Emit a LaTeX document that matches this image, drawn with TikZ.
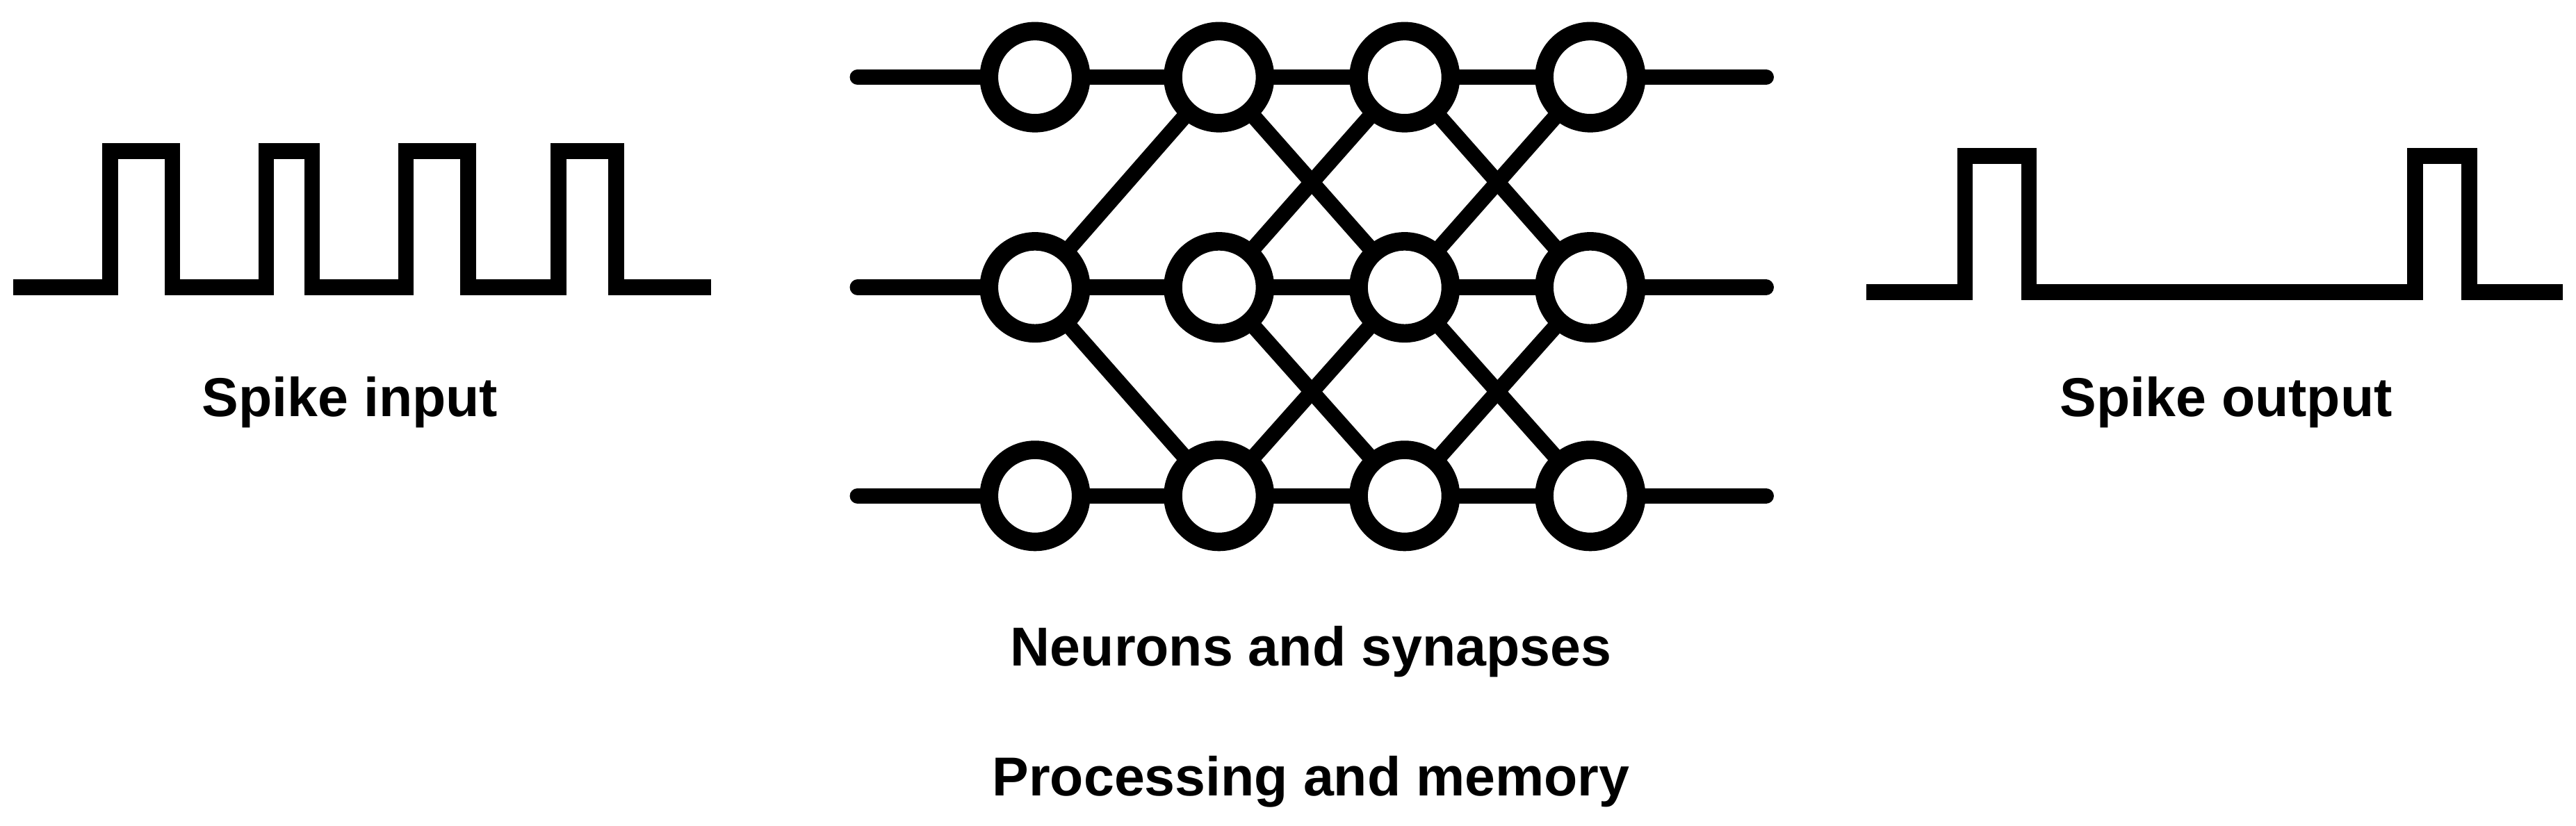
\documentclass[tikz,border=0pt]{standalone}
\usepackage{fontspec}
\setmainfont{Liberation Sans}
\tikzset{
  wire/.style={line width=2.7pt,line cap=round,line join=miter},
  neuron/.style={circle,draw,line width=3.2pt,fill=white,minimum size=0.56cm,inner sep=0pt},
  lbl/.style={font=\fontsize{9.5}{11}\selectfont\bfseries}
}
\begin{document}
\begin{tikzpicture}[x=0.01cm,y=-0.01cm]
\useasboundingbox (0,0) rectangle (1568,503);
% spike trains
\draw[wire,line cap=butt] (8,175) -- (67,175) -- (67,92) -- (105,92) -- (105,175) -- (162,175) -- (162,92) -- (190,92) -- (190,175)
  -- (247,175) -- (247,92) -- (285,92) -- (285,175) -- (340,175) -- (340,92) -- (375,92) -- (375,175) -- (433,175);
\draw[wire,line cap=butt] (1136,178) -- (1196,178) -- (1196,95) -- (1235,95) -- (1235,178) -- (1470,178) -- (1470,95) -- (1503,95) -- (1503,178) -- (1560,178);
% neurons
\foreach \c/\x in {1/630,2/742,3/855,4/968}
  \foreach \r/\y in {1/47,2/175,3/302}
    \coordinate (p-\c-\r) at (\x,\y);
\foreach \r/\y in {1/47,2/175,3/302}{
  \coordinate (in-\r) at (522,\y);
  \coordinate (out-\r) at (1075,\y);
  \draw[wire] (in-\r) -- (out-\r);
}
\foreach \a/\b in {1-2/2-1,1-2/2-3,2-1/3-2,2-2/3-1,2-2/3-3,2-3/3-2,3-1/4-2,3-2/4-1,3-2/4-3,3-3/4-2}
  \draw[wire] (p-\a) -- (p-\b);
\foreach \c in {1,...,4}
  \foreach \r in {1,2,3}
    \node[neuron] (n-\c-\r) at (p-\c-\r) {};
% labels
\node[lbl] (lin) at (213,245) {Spike input};
\node[lbl] (lout) at (1355,245) {Spike output};
\node[lbl] (lnet) at (798,397) {Neurons and synapses};
\node[lbl] (lmem) at (798,476) {Processing and memory};
\end{tikzpicture}
\end{document}
